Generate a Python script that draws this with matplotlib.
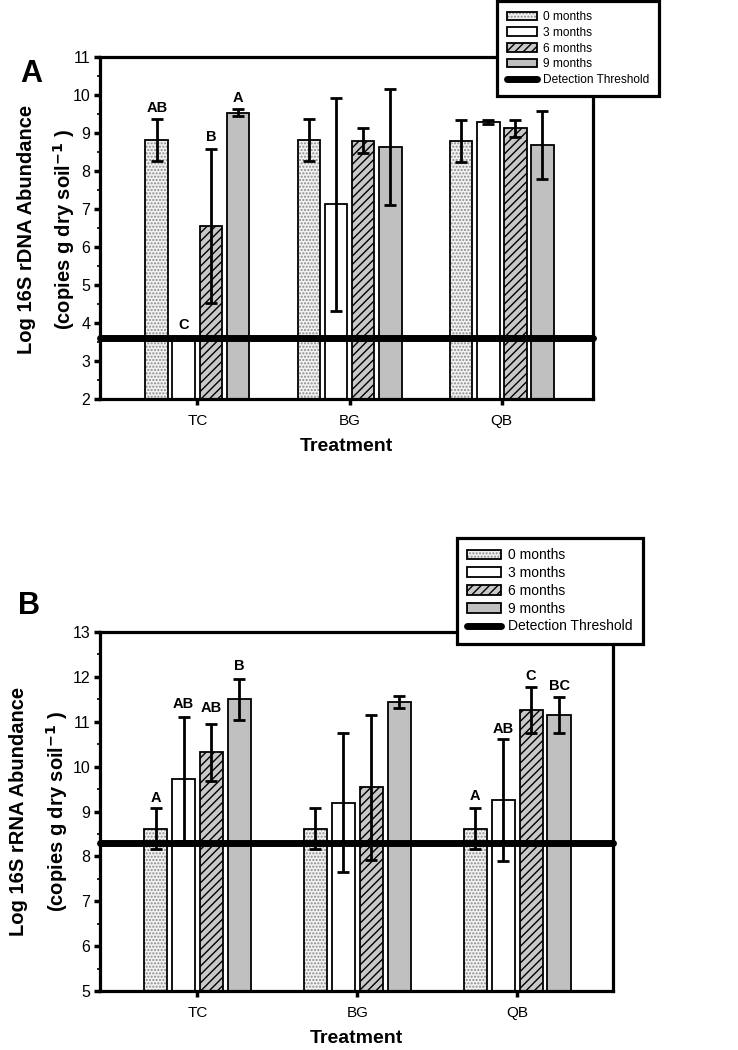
import numpy as np
import matplotlib.pyplot as plt
from matplotlib.patches import Patch
from matplotlib.lines import Line2D
from matplotlib.ticker import MultipleLocator

plt.rcParams['font.family'] = ['Liberation Sans', 'DejaVu Sans']
plt.rcParams['hatch.linewidth'] = 1.0

# data
treatments = ['TC', 'BG', 'QB']
months = ['0 months', '3 months', '6 months', '9 months']

# panel A: 16S rDNA (rows = treatment, cols = month)
dna_mean = np.array([[8.82, 3.60, 6.55, 9.53],
                     [8.82, 7.12, 8.80, 8.63],
                     [8.80, 9.29, 9.12, 8.69]])
dna_err = np.array([[0.55, 0.00, 2.03, 0.09],
                    [0.55, 2.81, 0.32, 1.53],
                    [0.55, 0.05, 0.22, 0.90]])
dna_thresh = 3.6
dna_letters = [(0, 0, 'AB', 9.66), (0, 1, 'C', 3.95), (0, 2, 'B', 8.9), (0, 3, 'A', 9.92)]

# panel B: 16S rRNA
rna_mean = np.array([[8.62, 9.72, 10.32, 11.50],
                     [8.62, 9.20, 9.54, 11.44],
                     [8.62, 9.25, 11.27, 11.15]])
rna_err = np.array([[0.45, 1.38, 0.63, 0.45],
                    [0.45, 1.55, 1.62, 0.13],
                    [0.45, 1.36, 0.51, 0.40]])
rna_thresh = 8.3
rna_letters = [(0, 0, 'A', 9.3), (0, 1, 'AB', 11.39), (0, 2, 'AB', 11.3), (0, 3, 'B', 12.24),
               (2, 0, 'A', 9.35), (2, 1, 'AB', 10.83), (2, 2, 'C', 12.02), (2, 3, 'BC', 11.8)]

# bar styles: fill, hatch, hatch colour
faces = ['#f2f2f2', 'white', '#c8c8c8', '#c0c0c0']
hatches = ['.....', None, '////', None]
hcols = ['#8a8a8a', 'black', 'black', 'black']

fig = plt.figure(figsize=(7.38, 10.5), dpi=100)


def panel(rect, mean, err, thresh, letters, ylim, step, width, xlim):
    ax = fig.add_axes(rect)
    x = np.arange(len(treatments))
    for j in range(len(months)):
        xs = x + (j - 1.5) * step
        h = mean[:, j] - ylim[0]
        # fill + hatch, then black outline on top
        ax.bar(xs, h, width, bottom=ylim[0], color=faces[j], edgecolor=hcols[j],
               linewidth=0, hatch=hatches[j], zorder=2)
        ax.bar(xs, h, width, bottom=ylim[0], fill=False, edgecolor='black',
               linewidth=1.3, zorder=2.1)
        e = err[:, j]
        m = e > 0
        ax.errorbar(xs[m], mean[m, j], yerr=e[m], fmt='none', ecolor='black',
                    elinewidth=2, capsize=4.5, capthick=2, zorder=4)
    ax.axhline(thresh, color='black', lw=5, solid_capstyle='round', zorder=3, clip_on=False)
    for i, j, t, y in letters:
        ax.text(x[i] + (j - 1.5) * step, y, t, ha='center', va='center',
                fontsize=10.5, fontweight='bold', zorder=5)
    ax.set_xlim(*xlim)
    ax.set_ylim(*ylim)
    ax.set_xticks(x)
    ax.set_xticklabels(treatments, fontsize=11)
    ax.yaxis.set_major_locator(MultipleLocator(1))
    ax.yaxis.set_minor_locator(MultipleLocator(0.5))
    ax.tick_params(axis='y', which='major', direction='out', length=4, width=2.5, labelsize=11.5, pad=3)
    ax.tick_params(axis='y', which='minor', direction='out', length=2.5, width=1.2)
    ax.tick_params(axis='x', which='major', direction='out', length=4, width=2.5, pad=7)
    for s in ax.spines.values():
        s.set_linewidth(2.3)
    ax.set_xlabel('Treatment', fontsize=14, fontweight='bold', labelpad=7)
    return ax


axA = panel([100 / 738, 1 - 399 / 1050, 493 / 738, 342 / 1050], dna_mean, dna_err, dna_thresh,
            dna_letters, (2, 11), 0.178, 0.15, (-0.64, 2.6))
axB = panel([100 / 738, 1 - 991 / 1050, 513 / 738, 359 / 1050], rna_mean, rna_err, rna_thresh,
            rna_letters, (5, 13), 0.175, 0.145, (-0.61, 2.6))

# y labels (two lines each)
fig.text(27 / 738, 1 - 229 / 1050, 'Log 16S rDNA Abundance', rotation=90, ha='center', va='center',
         fontsize=14.5, fontweight='bold')
fig.text(64 / 738, 1 - 229 / 1050, '(copies g dry soil$^{\\mathbf{-1}}$ )', rotation=90, ha='center',
         va='center', fontsize=14.5, fontweight='bold')
fig.text(19 / 738, 1 - 811 / 1050, 'Log 16S rRNA Abundance', rotation=90, ha='center', va='center',
         fontsize=14.5, fontweight='bold')
fig.text(57 / 738, 1 - 811 / 1050, '(copies g dry soil$^{\\mathbf{-1}}$ )', rotation=90, ha='center',
         va='center', fontsize=14.5, fontweight='bold')

# panel letters
fig.text(20 / 738, 1 - 74 / 1050, 'A', fontsize=22, fontweight='bold', va='center')
fig.text(18 / 738, 1 - 606 / 1050, 'B', fontsize=22, fontweight='bold', va='center')

# legends
handles = []
for j in range(4):
    fillp = Patch(facecolor=faces[j], edgecolor=hcols[j], hatch=hatches[j], linewidth=0)
    edgep = Patch(fill=False, edgecolor='black', linewidth=1.3)
    handles.append((fillp, edgep))
handles.append(Line2D([0], [0], color='black', lw=5, solid_capstyle='round'))
labels = months + ['Detection Threshold']

legA = fig.legend(handles, labels, loc='upper left', bbox_to_anchor=(497 / 738, 1 - 1 / 1050),
                  borderaxespad=0, fontsize=8.6, handlelength=2.5, handleheight=0.7, labelspacing=0.31,
                  handletextpad=0.5, borderpad=0.85, fancybox=False, framealpha=1, edgecolor='black')
legA.get_frame().set_linewidth(2.3)
legB = fig.legend(handles, labels, loc='upper left', bbox_to_anchor=(457 / 738, 1 - 538 / 1050),
                  borderaxespad=0, fontsize=10, handlelength=2.4, handleheight=0.7, labelspacing=0.27,
                  handletextpad=0.55, borderpad=0.75, fancybox=False, framealpha=1, edgecolor='black')
legB.get_frame().set_linewidth(2.3)

fig.savefig('out.png', dpi=100)
